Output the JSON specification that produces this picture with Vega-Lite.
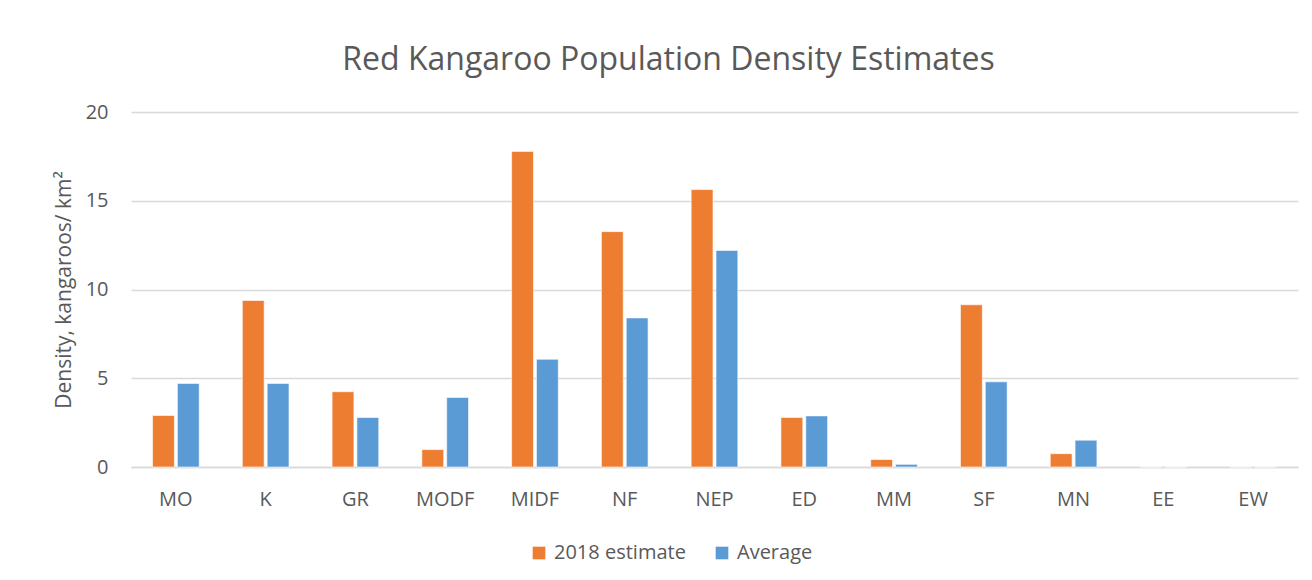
{
  "$schema": "https://vega.github.io/schema/vega-lite/v6.json",
  "width": 1167,
  "height": 355,
  "autosize": {"type": "none"},
  "padding": {"left": 131, "top": 112, "right": 14, "bottom": 113},
  "background": "white",
  "title": {
    "text": "Red Kangaroo Population Density Estimates",
    "font": "Open Sans",
    "fontSize": 32,
    "fontWeight": "normal",
    "color": "#595959",
    "anchor": "middle",
    "dx": -46,
    "offset": 25
  },
  "data": {
    "values": [
      {"site": "MO", "series": "2018 estimate", "density": 2.90},
      {"site": "MO", "series": "Average", "density": 4.71},
      {"site": "K", "series": "2018 estimate", "density": 9.38},
      {"site": "K", "series": "Average", "density": 4.71},
      {"site": "GR", "series": "2018 estimate", "density": 4.24},
      {"site": "GR", "series": "Average", "density": 2.79},
      {"site": "MODF", "series": "2018 estimate", "density": 0.98},
      {"site": "MODF", "series": "Average", "density": 3.92},
      {"site": "MIDF", "series": "2018 estimate", "density": 17.78},
      {"site": "MIDF", "series": "Average", "density": 6.07},
      {"site": "NF", "series": "2018 estimate", "density": 13.26},
      {"site": "NF", "series": "Average", "density": 8.40},
      {"site": "NEP", "series": "2018 estimate", "density": 15.63},
      {"site": "NEP", "series": "Average", "density": 12.20},
      {"site": "ED", "series": "2018 estimate", "density": 2.79},
      {"site": "ED", "series": "Average", "density": 2.88},
      {"site": "MM", "series": "2018 estimate", "density": 0.42},
      {"site": "MM", "series": "Average", "density": 0.15},
      {"site": "SF", "series": "2018 estimate", "density": 9.14},
      {"site": "SF", "series": "Average", "density": 4.80},
      {"site": "MN", "series": "2018 estimate", "density": 0.75},
      {"site": "MN", "series": "Average", "density": 1.51},
      {"site": "EE", "series": "2018 estimate", "density": 0},
      {"site": "EE", "series": "Average", "density": 0},
      {"site": "EW", "series": "2018 estimate", "density": 0},
      {"site": "EW", "series": "Average", "density": 0}
    ]
  },
  "mark": {"type": "bar", "stroke": "white", "strokeWidth": 0.6},
  "encoding": {
    "x": {
      "field": "site",
      "type": "nominal",
      "sort": ["MO", "K", "GR", "MODF", "MIDF", "NF", "NEP", "ED", "MM", "SF", "MN", "EE", "EW"],
      "scale": {"paddingInner": 0.48, "paddingOuter": 0.24},
      "axis": {
        "title": null,
        "labelAngle": 0,
        "ticks": false,
        "domainColor": "#d9d9d9",
        "domainWidth": 1.5,
        "labelFont": "Open Sans",
        "labelFontSize": 20,
        "labelColor": "#595959",
        "labelPadding": 22
      }
    },
    "xOffset": {
      "field": "series",
      "type": "nominal",
      "sort": ["2018 estimate", "Average"],
      "scale": {"paddingInner": 0.12}
    },
    "y": {
      "field": "density",
      "type": "quantitative",
      "scale": {"domain": [0, 20]},
      "axis": {
        "values": [0, 5, 10, 15, 20],
        "title": "Density, kangaroos/ km²",
        "titleFont": "Open Sans",
        "titleFontSize": 21,
        "titleFontWeight": "normal",
        "titleColor": "#595959",
        "titlePadding": 11,
        "domain": false,
        "ticks": false,
        "gridColor": "#d9d9d9",
        "gridWidth": 1.5,
        "labelFont": "Open Sans",
        "labelFontSize": 20,
        "labelColor": "#595959",
        "labelPadding": 23
      }
    },
    "color": {
      "field": "series",
      "type": "nominal",
      "scale": {"domain": ["2018 estimate", "Average"], "range": ["#ED7D31", "#5B9BD5"]},
      "legend": {
        "title": null,
        "orient": "none",
        "direction": "horizontal",
        "legendX": 398,
        "legendY": 431,
        "symbolType": "square",
        "symbolSize": 160,
        "symbolStrokeWidth": 0,
        "labelFont": "Open Sans",
        "labelFontSize": 20,
        "labelColor": "#595959",
        "labelOffset": 5,
        "columnPadding": 26
      }
    }
  },
  "config": {"view": {"stroke": null}}
}
